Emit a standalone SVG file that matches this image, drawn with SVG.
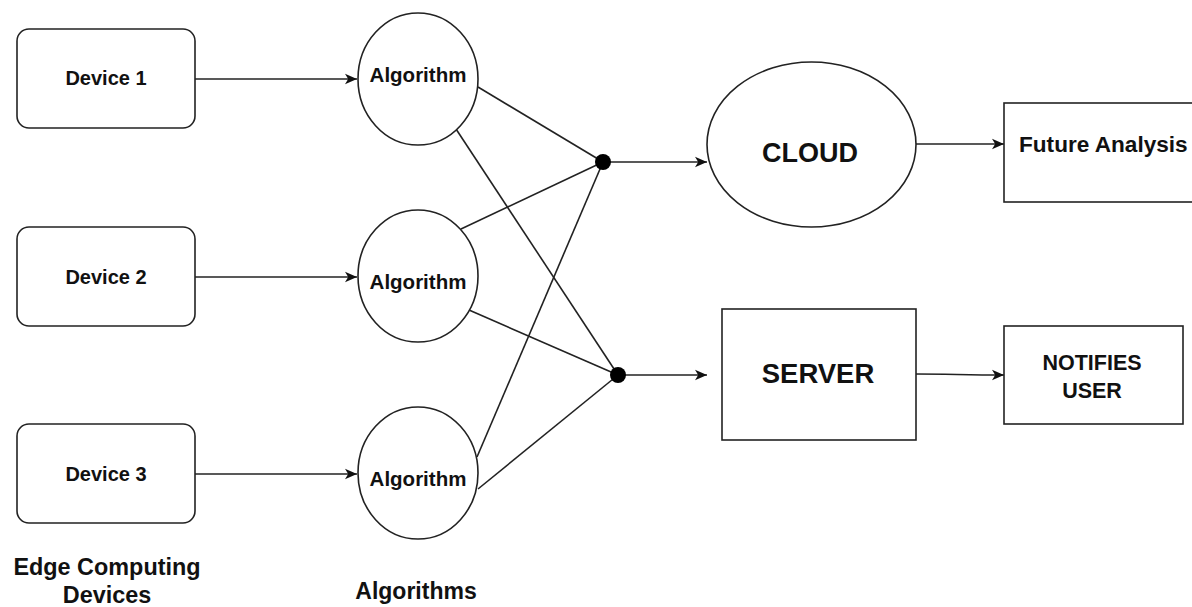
<svg xmlns="http://www.w3.org/2000/svg" width="1192" height="607" viewBox="0 0 1192 607">
<defs>
<style>
.shape{fill:#fff;stroke:#222;stroke-width:1.6}
.edge{fill:none;stroke:#222;stroke-width:1.6}
.t{font-family:"Liberation Sans",Arial,sans-serif;font-weight:bold;fill:#111;text-anchor:middle}
.dot{fill:#000}
</style>
<marker id="arr" markerUnits="userSpaceOnUse" markerWidth="14" markerHeight="12" refX="12" refY="6" orient="auto">
<path d="M0,0.8 L12,6 L0,11.2 L3.2,6 Z" fill="#111"/>
</marker>
</defs>
<rect width="1192" height="607" fill="#fff"/>
<g id="connectors">
<line class="edge" x1="195" y1="79" x2="357" y2="79" marker-end="url(#arr)"/>
<line class="edge" x1="195" y1="277" x2="357" y2="277" marker-end="url(#arr)"/>
<line class="edge" x1="195" y1="474" x2="357" y2="474" marker-end="url(#arr)"/>
<line class="edge" x1="478" y1="87" x2="603" y2="162"/>
<line class="edge" x1="456" y1="129" x2="618" y2="375"/>
<line class="edge" x1="461" y1="229" x2="603" y2="162"/>
<line class="edge" x1="469" y1="310" x2="618" y2="375"/>
<line class="edge" x1="477" y1="457" x2="603" y2="162"/>
<line class="edge" x1="478" y1="489" x2="618" y2="375"/>
<line class="edge" x1="603" y1="162" x2="707" y2="162" marker-end="url(#arr)"/>
<line class="edge" x1="618" y1="375" x2="707" y2="375" marker-end="url(#arr)"/>
<line class="edge" x1="916" y1="144" x2="1004" y2="144" marker-end="url(#arr)"/>
<path class="edge" d="M916,374 C950,374 965,375 1004,375" marker-end="url(#arr)"/>
<circle class="dot" cx="603" cy="162" r="8"/>
<circle class="dot" cx="618" cy="375" r="8"/>
</g>
<g id="device1">
<rect class="shape" x="17" y="29" width="178" height="99" rx="12"/>
<text class="t" x="106" y="85" font-size="20">Device 1</text>
</g>
<g id="device2">
<rect class="shape" x="17" y="227" width="178" height="99" rx="12"/>
<text class="t" x="106" y="284" font-size="20">Device 2</text>
</g>
<g id="device3">
<rect class="shape" x="17" y="424" width="178" height="99" rx="12"/>
<text class="t" x="106" y="481" font-size="20">Device 3</text>
</g>
<g id="algorithm1">
<ellipse class="shape" cx="418" cy="79" rx="60" ry="66"/>
<text class="t" x="418" y="82" font-size="20.5">Algorithm</text>
</g>
<g id="algorithm2">
<ellipse class="shape" cx="418" cy="276" rx="60" ry="66"/>
<text class="t" x="418" y="289" font-size="20.5">Algorithm</text>
</g>
<g id="algorithm3">
<ellipse class="shape" cx="418" cy="473" rx="60" ry="66"/>
<text class="t" x="418" y="486" font-size="20.5">Algorithm</text>
</g>
<g id="cloud">
<ellipse class="shape" cx="811.5" cy="144.5" rx="104.5" ry="82.5"/>
<text class="t" x="810" y="162" font-size="27">CLOUD</text>
</g>
<g id="server">
<rect class="shape" x="722" y="309" width="194" height="131"/>
<text class="t" x="818" y="383" font-size="27.5">SERVER</text>
</g>
<g id="future-analysis">
<rect class="shape" x="1004" y="103" width="200" height="99"/>
<text class="t" x="1019" y="152" font-size="22.6" style="text-anchor:start">Future Analysis</text>
</g>
<g id="notifies-user">
<rect class="shape" x="1004" y="326" width="179" height="98"/>
<text class="t" x="1092" y="370" font-size="21.5">NOTIFIES</text>
<text class="t" x="1092" y="398" font-size="21.5">USER</text>
</g>
<g id="label-edge">
<text class="t" x="107" y="575" font-size="23.4">Edge Computing</text>
<text class="t" x="107" y="603" font-size="23.4">Devices</text>
</g>
<g id="label-algorithms">
<text class="t" x="416" y="599" font-size="23">Algorithms</text>
</g>
</svg>
